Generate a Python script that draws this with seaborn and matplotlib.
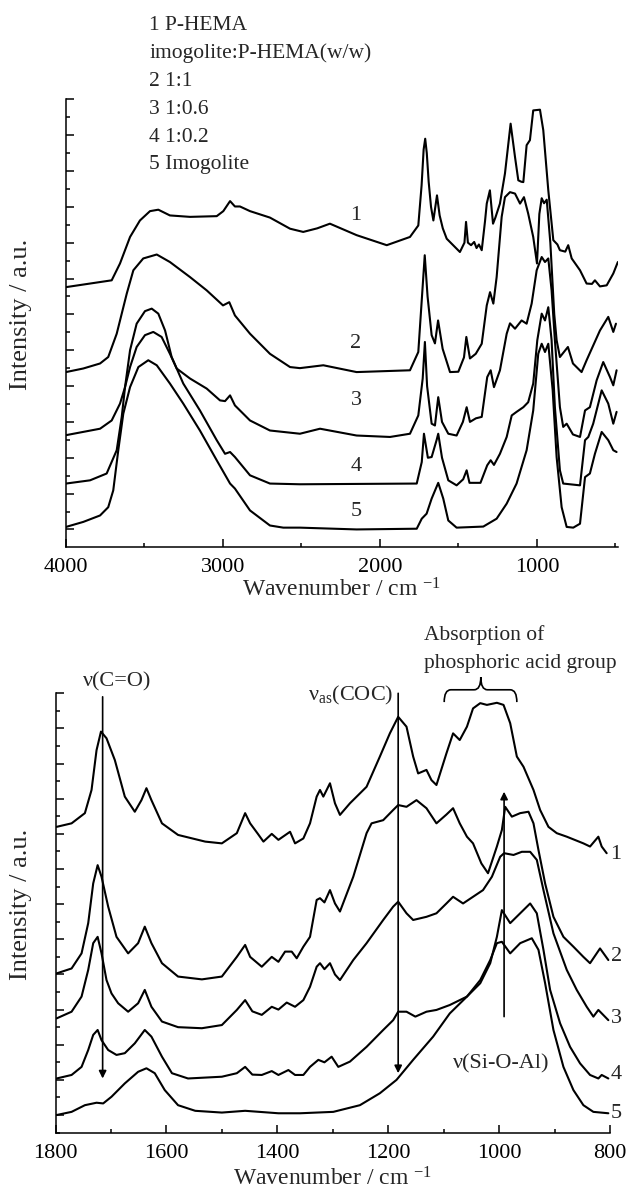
import matplotlib
matplotlib.use("Agg")
import matplotlib.pyplot as plt
import seaborn as sns
from matplotlib.path import Path
from matplotlib.patches import PathPatch
from matplotlib.ticker import MultipleLocator

# ---- top panel: full range spectra (wavenumber, intensity a.u.) ----
wn_full_1 = [4000, 3709, 3656, 3592, 3529, 3465, 3412, 3338, 3210, 3040, 2998, 2955, 2924, 2892, 2828,
             2701, 2573, 2489, 2400, 2319, 2149, 1957, 1809, 1756, 1735, 1722, 1712, 1702, 1690, 1675,
             1660, 1637, 1620, 1600, 1575, 1491, 1462, 1452, 1440, 1420, 1400, 1385, 1370, 1352, 1331,
             1320, 1300, 1280, 1265, 1236, 1204, 1168, 1140, 1119, 1100, 1087, 1066, 1045, 1024, 981,
             960, 928, 896, 870, 854, 820, 801, 779, 726, 684, 650, 631, 599, 556, 514, 485]
int_full_1 = [6.76, 6.95, 7.42, 8.16, 8.62, 8.88, 8.92, 8.76, 8.72, 8.74, 8.88, 9.16, 9.01, 9.01, 8.88,
              8.70, 8.39, 8.30, 8.40, 8.53, 8.21, 7.93, 8.16, 8.48, 9.6, 10.6, 10.9, 10.5, 9.7, 9.0,
              8.62, 9.32, 8.76, 8.4, 8.11, 7.74, 8.0, 8.58, 8.0, 7.93, 8.02, 7.85, 7.95, 7.79, 8.6,
              9.09, 9.46, 8.53, 8.7, 9.09, 9.93, 11.32, 10.39, 9.74, 9.7, 9.69, 10.72, 10.86, 11.69, 11.71,
              11.14, 9.46, 8.07, 7.95, 7.79, 7.75, 7.93, 7.56, 7.23, 6.86, 6.85, 6.95, 6.78, 6.81, 7.14, 7.46]

wn_full_2 = [4000, 3890, 3783, 3731, 3677, 3613, 3571, 3508, 3422, 3338, 3210, 3104, 3000, 2960, 2924,
             2828, 2701, 2573, 2510, 2361, 2149, 1809, 1756, 1732, 1715, 1697, 1671, 1650, 1630, 1601,
             1554, 1501, 1465, 1450, 1427, 1390, 1352, 1320, 1299, 1278, 1257, 1225, 1204, 1172, 1140,
             1108, 1083, 1056, 1024, 1000, 985, 970, 955, 938, 915, 890, 875, 854, 803, 771,
             716, 684, 599, 546, 514, 497]
int_full_2 = [4.39, 4.49, 4.63, 4.81, 5.46, 6.58, 7.23, 7.56, 7.67, 7.46, 7.04, 6.67, 6.25, 6.34, 5.97,
              5.46, 4.90, 4.53, 4.50, 4.58, 4.39, 4.44, 4.95, 6.53, 7.65, 6.5, 5.42, 5.19, 5.83, 5.04,
              4.39, 4.40, 4.8, 5.37, 4.77, 4.9, 5.18, 6.25, 6.62, 6.30, 7.04, 8.72, 9.27, 9.41, 9.37,
              9.09, 9.27, 8.81, 8.16, 7.42, 8.8, 9.24, 9.10, 9.20, 8.0, 6.0, 5.28, 4.81, 5.09, 4.63,
              4.39, 4.72, 5.55, 5.93, 5.51, 5.74]

wn_full_3 = [4000, 3783, 3709, 3656, 3624, 3592, 3550, 3497, 3444, 3391, 3338, 3295, 3210, 3104, 3019,
             2987, 2955, 2924, 2828, 2701, 2510, 2382, 2149, 1936, 1809, 1756, 1728, 1714, 1700, 1671,
             1650, 1629, 1605, 1565, 1512, 1472, 1448, 1427, 1389, 1352, 1317, 1295, 1274, 1236, 1193,
             1172, 1140, 1098, 1066, 1034, 1002, 970, 949, 928, 907, 886, 854, 833, 811, 771,
             726, 694, 663, 620, 578, 535, 514, 493]
int_full_3 = [2.63, 2.81, 3.04, 3.51, 3.97, 4.53, 5.09, 5.42, 5.51, 5.37, 4.90, 4.49, 4.21, 3.93, 3.60,
              3.58, 3.74, 3.46, 3.04, 2.76, 2.67, 2.81, 2.62, 2.58, 2.67, 3.18, 4.21, 5.23, 4.0, 2.95,
              2.90, 3.69, 3.0, 2.67, 2.62, 3.0, 3.41, 3.00, 3.1, 3.14, 4.25, 4.44, 3.97, 4.44, 5.46,
              5.75, 5.60, 5.83, 5.74, 6.30, 7.23, 7.60, 7.46, 7.56, 6.67, 5.28, 3.41, 2.86, 2.95, 2.65,
              2.58, 3.32, 3.41, 4.16, 4.67, 4.25, 4.02, 4.44]

wn_full_4 = [4000, 3847, 3741, 3677, 3645, 3624, 3592, 3550, 3497, 3454, 3412, 3369, 3327, 3253, 3147,
             3040, 2987, 2955, 2924, 2828, 2701, 2510, 1766, 1734, 1720, 1695, 1671, 1639, 1629, 1605,
             1565, 1512, 1470, 1448, 1430, 1360, 1317, 1295, 1274, 1236, 1193, 1161, 1130, 1087, 1056,
             1024, 998, 970, 949, 928, 907, 886, 854, 833, 726, 694, 673, 642, 588, 546,
             514, 493]
int_full_4 = [1.28, 1.37, 1.56, 2.21, 3.14, 3.97, 5.00, 5.74, 6.09, 6.16, 6.02, 5.55, 4.81, 4.07, 3.32,
              2.49, 2.11, 2.16, 2.02, 1.51, 1.28, 1.26, 1.28, 1.88, 2.67, 2.0, 2.02, 2.5, 2.67, 2.0,
              1.37, 1.23, 1.4, 1.65, 1.3, 1.3, 1.79, 1.93, 1.8, 2.11, 2.58, 3.18, 3.28, 3.41, 3.55,
              4.07, 5.28, 6.02, 5.83, 6.20, 5.28, 3.41, 1.65, 1.28, 1.23, 2.49, 2.58, 2.95, 3.88, 3.51,
              2.95, 3.28]

wn_full_5 = [4000, 3890, 3783, 3731, 3699, 3667, 3635, 3592, 3539, 3476, 3422, 3338, 3253, 3147, 3040,
             2955, 2924, 2828, 2701, 2616, 2510, 2149, 1766, 1734, 1703, 1671, 1629, 1597, 1565, 1512,
             1342, 1257, 1193, 1130, 1066, 1024, 992, 970, 949, 928, 900, 875, 843, 811, 769,
             726, 694, 663, 631, 588, 546, 514, 493]
int_full_5 = [0.07, 0.21, 0.39, 0.62, 1.09, 2.21, 3.23, 3.97, 4.53, 4.72, 4.58, 4.07, 3.51, 2.76, 1.93,
              1.28, 1.14, 0.53, 0.11, 0.05, 0.05, 0.0, 0.02, 0.30, 0.44, 0.86, 1.30, 0.86, 0.25, 0.05,
              0.08, 0.30, 0.72, 1.28, 2.21, 3.32, 4.90, 5.18, 4.95, 5.18, 3.88, 2.02, 0.62, 0.07, 0.05,
              0.16, 1.46, 1.56, 2.11, 2.72, 2.49, 2.21, 2.16]

# ---- bottom panel: 1800-800 cm-1 detail ----
wn_zoom_1 = [1798, 1771, 1747, 1735, 1726, 1718, 1708, 1693, 1675, 1657, 1645, 1636, 1627, 1608, 1579,
             1530, 1500, 1473, 1458, 1449, 1435, 1425, 1410, 1398, 1377, 1368, 1353, 1341, 1329, 1323,
             1317, 1305, 1296, 1287, 1269, 1239, 1215, 1197, 1182, 1167, 1155, 1146, 1131, 1122, 1113,
             1095, 1083, 1071, 1058, 1047, 1034, 1022, 1004, 992, 980, 968, 956, 938, 926, 911,
             896, 878, 848, 836, 821, 815, 806]
int_zoom_1 = [8.20, 8.30, 8.59, 9.25, 10.38, 10.91, 10.72, 10.10, 9.06, 8.63, 8.96, 9.30, 8.96, 8.30, 7.97,
              7.78, 7.73, 8.02, 8.59, 8.30, 8.0, 7.78, 8.00, 7.83, 8.06, 7.73, 7.87, 8.30, 9.06, 9.25,
              9.06, 9.44, 8.87, 8.54, 8.87, 9.34, 10.20, 10.86, 11.33, 11.05, 10.20, 9.72, 9.82, 9.53, 9.39,
              10.29, 10.86, 10.67, 11.05, 11.57, 11.72, 11.67, 11.73, 11.67, 11.15, 10.20, 9.91, 9.25, 8.68, 8.20,
              8.02, 7.92, 7.73, 7.64, 7.92, 7.64, 7.45]

wn_zoom_2 = [1798, 1771, 1753, 1741, 1732, 1724, 1717, 1705, 1690, 1669, 1651, 1639, 1627, 1608, 1579,
             1536, 1500, 1473, 1458, 1449, 1428, 1410, 1398, 1386, 1374, 1365, 1353, 1341, 1329, 1323,
             1315, 1305, 1296, 1287, 1263, 1239, 1230, 1209, 1191, 1182, 1167, 1149, 1131, 1113, 1095,
             1083, 1071, 1058, 1047, 1032, 1020, 1004, 995, 989, 977, 962, 947, 938, 929, 917,
             902, 884, 866, 848, 836, 818, 803]
int_zoom_2 = [4.03, 4.17, 4.60, 5.46, 6.59, 7.11, 6.78, 5.93, 5.07, 4.60, 4.89, 5.36, 4.89, 4.32, 3.94,
              3.86, 3.94, 4.50, 4.84, 4.50, 4.22, 4.50, 4.36, 4.65, 4.65, 4.46, 4.79, 5.07, 6.12, 6.17,
              6.05, 6.40, 6.02, 5.79, 6.78, 8.02, 8.30, 8.39, 8.68, 8.82, 8.77, 8.96, 8.73, 8.30, 8.55,
              8.73, 8.30, 7.92, 7.73, 7.16, 6.88, 7.64, 8.11, 8.77, 8.49, 8.59, 8.63, 8.30, 7.54, 6.59,
              5.64, 5.07, 4.79, 4.50, 4.32, 4.74, 4.41]

wn_zoom_3 = [1798, 1771, 1753, 1741, 1732, 1724, 1717, 1708, 1699, 1687, 1669, 1651, 1639, 1627, 1608,
             1579, 1536, 1500, 1473, 1458, 1445, 1428, 1410, 1398, 1383, 1368, 1353, 1341, 1329, 1323,
             1315, 1305, 1296, 1287, 1263, 1239, 1209, 1191, 1182, 1167, 1155, 1131, 1113, 1095, 1083,
             1065, 1047, 1029, 1013, 998, 991, 974, 959, 944, 932, 920, 902, 878, 860, 842,
             830, 821, 803]
int_zoom_3 = [2.75, 2.94, 3.37, 4.13, 4.89, 5.07, 4.60, 3.84, 3.46, 3.18, 2.94, 3.18, 3.56, 3.08, 2.66,
              2.50, 2.47, 2.56, 2.99, 3.27, 2.95, 2.85, 3.08, 3.0, 3.20, 3.08, 3.27, 3.65, 4.22, 4.32,
              4.15, 4.32, 4.0, 3.84, 4.41, 4.89, 5.55, 5.93, 6.07, 5.74, 5.55, 5.64, 5.74, 6.02, 6.21,
              6.02, 6.21, 6.40, 6.78, 7.35, 7.45, 7.40, 7.49, 7.49, 7.26, 6.40, 5.17, 4.13, 3.56, 3.08,
              2.80, 2.99, 2.70]

wn_zoom_4 = [1798, 1771, 1753, 1741, 1732, 1724, 1717, 1705, 1690, 1675, 1657, 1639, 1627, 1608, 1590,
             1561, 1500, 1473, 1458, 1445, 1428, 1410, 1398, 1380, 1368, 1353, 1341, 1326, 1315, 1302,
             1290, 1269, 1239, 1209, 1191, 1182, 1167, 1151, 1131, 1113, 1089, 1058, 1034, 1016, 1004,
             995, 980, 962, 944, 932, 920, 908, 890, 872, 854, 836, 821, 815, 803]
int_zoom_4 = [1.04, 1.14, 1.37, 1.85, 2.28, 2.42, 2.13, 1.85, 1.71, 1.76, 2.04, 2.42, 2.23, 1.66, 1.19,
              1.04, 1.09, 1.19, 1.37, 1.15, 1.14, 1.25, 1.14, 1.28, 1.14, 1.14, 1.37, 1.57, 1.50, 1.66,
              1.37, 1.52, 1.94, 2.42, 2.70, 2.94, 2.94, 2.80, 2.94, 2.99, 3.13, 3.37, 3.75, 4.32, 5.07,
              5.83, 5.46, 5.74, 6.02, 5.74, 4.70, 3.56, 2.61, 1.94, 1.47, 1.14, 1.04, 1.14, 1.04]

wn_zoom_5 = [1798, 1771, 1747, 1726, 1714, 1699, 1675, 1651, 1636, 1621, 1603, 1579, 1548, 1500, 1458,
             1398, 1359, 1299, 1251, 1215, 1185, 1155, 1119, 1089, 1058, 1034, 1016, 1004, 995, 980,
             962, 941, 929, 917, 902, 884, 866, 848, 830, 803]
int_zoom_5 = [0.00, 0.09, 0.28, 0.35, 0.33, 0.52, 0.90, 1.23, 1.33, 1.19, 0.71, 0.28, 0.12, 0.07, 0.12,
              0.05, 0.05, 0.09, 0.28, 0.62, 1.00, 1.57, 2.23, 2.89, 3.37, 3.84, 4.41, 4.89, 4.93, 4.60,
              4.89, 5.03, 4.70, 3.75, 2.42, 1.37, 0.71, 0.28, 0.09, 0.05]

curve_ids = ["1", "2", "3", "4", "5"]
legend_lines = ["1 P-HEMA", "imogolite:P-HEMA(w/w)", "2 1:1", "3 1:0.6", "4 1:0.2", "5 Imogolite"]

sns.set_theme(style="ticks")
plt.rcParams["font.family"] = ["Liberation Serif", "DejaVu Serif"]
plt.rcParams["mathtext.fontset"] = "custom"
plt.rcParams["mathtext.rm"] = "Liberation Serif"
plt.rcParams["mathtext.it"] = "Liberation Serif:italic"
plt.rcParams["mathtext.bf"] = "Liberation Serif:bold"
plt.rcParams["axes.linewidth"] = 1.1
plt.rcParams["axes.edgecolor"] = "black"

fig = plt.figure(figsize=(6.3, 11.95), dpi=100)
ax1 = fig.add_axes([66 / 630, 1 - 547 / 1195, 552 / 630, 447.7 / 1195])
ax2 = fig.add_axes([55.5 / 630, 1 - 1133.3 / 1195, 554.5 / 630, 440 / 1195])

top_sets = [(wn_full_1, int_full_1), (wn_full_2, int_full_2), (wn_full_3, int_full_3),
            (wn_full_4, int_full_4), (wn_full_5, int_full_5)]
bot_sets = [(wn_zoom_1, int_zoom_1), (wn_zoom_2, int_zoom_2), (wn_zoom_3, int_zoom_3),
            (wn_zoom_4, int_zoom_4), (wn_zoom_5, int_zoom_5)]

for wn, inten in top_sets:
    sns.lineplot(x=wn, y=inten, ax=ax1, color="black", linewidth=1.5,
                 estimator=None, sort=False, legend=False,
                 solid_joinstyle="round", solid_capstyle="round")
for wn, inten in bot_sets:
    sns.lineplot(x=wn, y=inten, ax=ax2, color="black", linewidth=1.5,
                 estimator=None, sort=False, legend=False,
                 solid_joinstyle="round", solid_capstyle="round")


def style_axes(ax, xlim, major, minor, ylim, ylab_x, xlab_y):
    ax.set_xlim(*xlim)
    ax.set_ylim(*ylim)
    ax.xaxis.set_major_locator(MultipleLocator(major))
    ax.xaxis.set_minor_locator(MultipleLocator(minor))
    ax.yaxis.set_major_locator(MultipleLocator(1))
    ax.yaxis.set_minor_locator(MultipleLocator(0.5))
    ax.tick_params(which="both", direction="in", colors="black", width=1.1)
    ax.tick_params(which="major", length=6)
    ax.tick_params(which="minor", length=3.2)
    ax.tick_params(axis="x", labelsize=16, pad=8)
    ax.tick_params(axis="y", labelleft=False)
    sns.despine(ax=ax)
    ax.set_xlabel(r"Wavenumber / cm $^{\mathregular{-1}}$", fontsize=17)
    ax.set_ylabel("Intensity / a.u.", fontsize=19)
    ax.yaxis.set_label_coords(ylab_x, 0.52)
    ax.xaxis.set_label_coords(0.5, xlab_y)


style_axes(ax1, (4000, 484), 1000, 500, (-0.49, 12), -0.0616, -0.069)
style_axes(ax2, (1800, 800), 200, 100, (-0.52, 12), -0.0424, -0.078)

# legend block above the top panel
for i, line in enumerate(legend_lines):
    fig.text(149 / 630, 1 - (25 + 28 * i) / 1195, line, fontsize=15.5,
             ha="left", va="center")

# curve numbers
for cid, yv in zip(curve_ids, [8.77, 5.19, 3.61, 1.75, 0.49]):
    ax1.text(2153, yv, cid, fontsize=16, ha="center", va="center")
for cid, yv in zip(curve_ids, [7.40, 4.50, 2.75, 1.14, 0.05]):
    ax2.text(789, yv, cid, fontsize=16, ha="center", va="center", clip_on=False)

# band assignments
arrow_kw = dict(arrowstyle="-|>", color="black", lw=1.2, mutation_scale=11,
                shrinkA=0, shrinkB=0)
ax2.annotate("", xy=(1715, 1.04), xytext=(1715, 11.9), arrowprops=arrow_kw,
             annotation_clip=False)
ax2.annotate("", xy=(1182, 1.19), xytext=(1182, 12.0), arrowprops=arrow_kw,
             annotation_clip=False)
ax2.annotate("", xy=(991, 9.2), xytext=(991, 2.8), arrowprops=arrow_kw,
             annotation_clip=False)

ax2.text(1689, 12.32, "ν(C=O)", fontsize=16, ha="center", va="center", clip_on=False)
ax2.text(1191, 11.8, r"$\mathregular{\nu_{as}}$(COC)", fontsize=16, ha="right",
         va="baseline", clip_on=False)
ax2.text(997, 1.45, "ν(Si-O-Al)", fontsize=16, ha="center", va="center")
ax2.text(1135, 13.66, "Absorption of", fontsize=15.5, ha="left", va="center", clip_on=False)
ax2.text(1135, 12.86, "phosphoric acid group", fontsize=15.5, ha="left", va="center",
         clip_on=False)

# curly brace over the phosphoric acid region
x0, x1, xc = 1099, 968, 1033
y_end, y_bar, y_tip = 11.75, 12.1, 12.46
d = 12
verts = [(x0, y_end), (x0, y_bar), (x0 - d, y_bar),
         (xc + d, y_bar), (xc, y_bar), (xc, y_tip),
         (xc, y_bar), (xc - d, y_bar),
         (x1 + d, y_bar), (x1, y_bar), (x1, y_end)]
codes = [Path.MOVETO, Path.CURVE3, Path.CURVE3,
         Path.LINETO, Path.CURVE3, Path.CURVE3,
         Path.CURVE3, Path.CURVE3,
         Path.LINETO, Path.CURVE3, Path.CURVE3]
ax2.add_patch(PathPatch(Path(verts, codes), fill=False, lw=1.2, edgecolor="black",
                        clip_on=False))

fig.savefig("out.png", dpi=100)
